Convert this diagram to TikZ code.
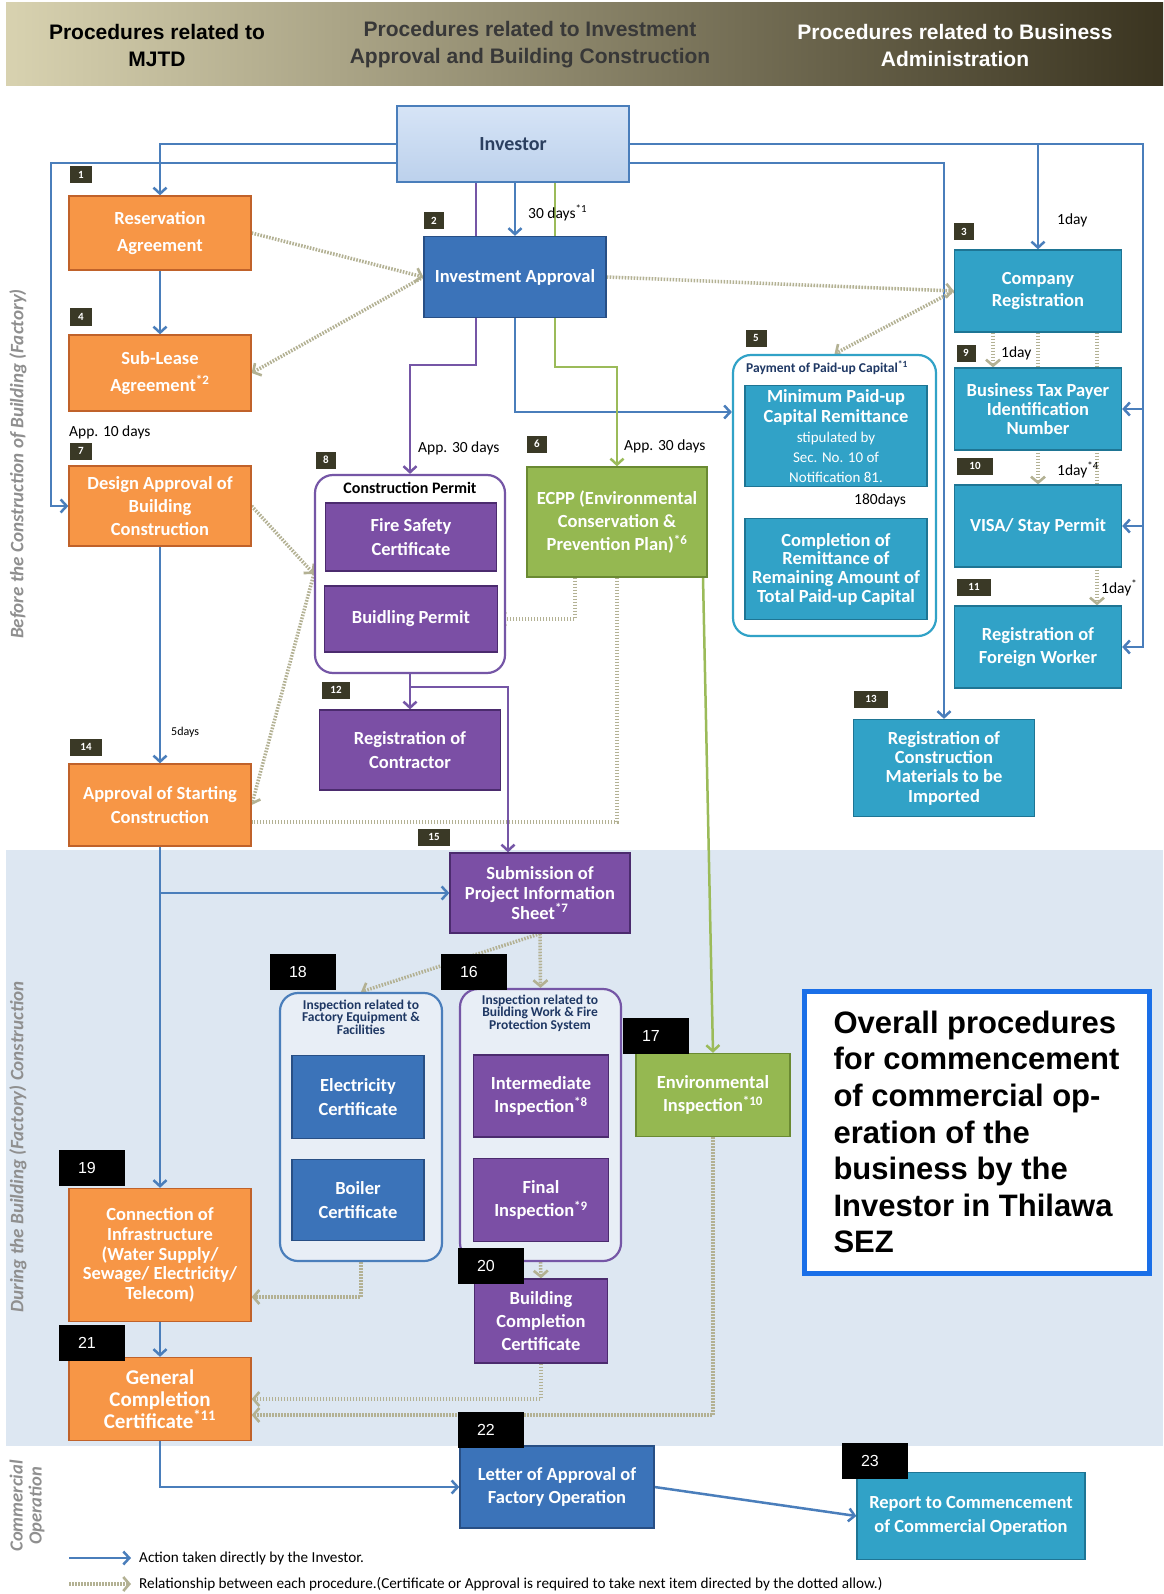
\documentclass[tikz,border=0pt]{standalone}
\usepackage{fontspec}
\setmainfont{Carlito}
\newfontfamily\hdfont{Liberation Sans}
\usetikzlibrary{arrows.meta,calc}
\definecolor{orf}{HTML}{F79646}
\definecolor{ord}{HTML}{C0622A}
\definecolor{blf}{HTML}{3B73B9}
\definecolor{bld}{HTML}{284F85}
\definecolor{tef}{HTML}{31A2C7}
\definecolor{ted}{HTML}{1E7594}
\definecolor{puf}{HTML}{7B4FA5}
\definecolor{pud}{HTML}{4B2B6E}
\definecolor{grf}{HTML}{95B851}
\definecolor{grd}{HTML}{6A8A32}
\definecolor{invt}{HTML}{D6E4F6}
\definecolor{invb}{HTML}{BCD1EC}
\definecolor{invd}{HTML}{4A7EBB}
\definecolor{invtxt}{HTML}{2B3F5F}
\definecolor{lnb}{HTML}{4A7EBB}
\definecolor{lnp}{HTML}{7556A6}
\definecolor{lng}{HTML}{9BBB59}
\definecolor{relc}{HTML}{B3B193}
\definecolor{badge}{HTML}{3A3926}
\definecolor{band}{HTML}{DDE7F2}
\definecolor{grpf}{HTML}{E8EEF6}
\definecolor{navy}{HTML}{1F3864}
\definecolor{sidegray}{HTML}{8F8F8F}
\definecolor{hdl}{HTML}{D8D2B0}
\definecolor{hdm}{HTML}{A49A6A}
\definecolor{hdr}{HTML}{3A3420}
\definecolor{bigblue}{HTML}{1A6FE8}
\pgfdeclarelayer{back}
\pgfdeclarelayer{lines}
\pgfsetlayers{back,lines,main}
\newcommand\smtxt{\mdseries\fontsize{15}{17}\selectfont}
\tikzset{
  base/.style={rectangle, line width=1.3pt, text=white, align=center, inner sep=2pt, font=\fontsize{18.5}{20}\selectfont\bfseries},
  lsp/.style={font=\fontsize{18.5}{#1}\selectfont\bfseries},
  obox/.style={base, fill=orf, draw=ord},
  bbox/.style={base, fill=blf, draw=bld},
  tbox/.style={base, fill=tef, draw=ted},
  ubox/.style={base, fill=puf, draw=pud},
  gbox/.style={base, fill=grf, draw=grd},
  grp/.style={rectangle, rounded corners=18pt, line width=2.2pt},
  sbadge/.style={fill=badge, text=white, font=\fontsize{11}{11}\selectfont\bfseries, minimum height=17pt, inner sep=0pt},
  kbadge/.style={fill=black, text=white, font=\hdfont\fontsize{16}{16}\selectfont, minimum height=36pt, text width=28pt, inner xsep=19pt, inner ysep=0pt, align=left},
  actb/.style={draw=lnb, line width=2.5pt, -{Straight Barb[length=6pt,width=13pt]}},
  actp/.style={draw=lnp, line width=2.5pt, -{Straight Barb[length=6pt,width=13pt]}},
  actg/.style={draw=lng, line width=2.5pt, -{Straight Barb[length=6pt,width=13pt]}},
  rel/.style={draw=relc, line width=3.5pt, dash pattern=on 1.6pt off 1.4pt, -{Straight Barb[length=6pt,width=14pt,line width=2.6pt]}},
  relnt/.style={draw=relc, line width=3.5pt, dash pattern=on 1.6pt off 1.4pt},
  dlbl/.style={anchor=west, font=\fontsize{15.5}{16}\selectfont, text=black, inner sep=0pt},
  hd/.style={align=center, font=\hdfont\bfseries\fontsize{21}{27}\selectfont},
  side/.style={rotate=90, text=sidegray, font=\itshape\bfseries\fontsize{19}{20}\selectfont, align=center},
  gtitle/.style={align=center, font=\fontsize{13.5}{12.5}\selectfont\bfseries, text=navy, inner sep=0pt},
  lgtxt/.style={anchor=west, font=\fontsize{15.2}{16}\selectfont, inner sep=0pt}
}
\begin{document}
\begin{tikzpicture}[x=1pt,y=-1pt]
\useasboundingbox (0,0) rectangle (1163,1594);
\begin{pgfonlayer}{back}
\fill[white] (0,0) rectangle (1163,1594);
\shade[left color=hdl, middle color=hdm, right color=hdr] (6,3) rectangle (1163,86);
\fill[band] (6,850) rectangle (1163,1446);
\end{pgfonlayer}

% header
\node[hd, text=black] (h1) at (157,45) {Procedures related to\\MJTD};
\node[hd, text=black!78] (h2) at (530,45) {Procedures related to Investment\\Approval and Building Construction};
\node[hd, text=white] (h3) at (955,45) {Procedures related to Business\\Administration};

% side labels
\node[side] (sbefore) at (18,464) {Before the Construction of Building (Factory)};
\node[side] (sduring) at (18,1147) {During the Building (Factory) Construction};
\node[side, font=\itshape\bfseries\fontsize{18.5}{19}\selectfont] (scomm) at (27,1506) {Commercial\\Operation};

% helper coordinates
\coordinate (yA) at (0,144);
\coordinate (yB) at (0,163);
\coordinate (xL) at (51,0);
\coordinate (xR) at (1143,0);
\coordinate (xP) at (476,0);
\coordinate (yP) at (0,365);
\coordinate (xG) at (555,0);
\coordinate (yG) at (0,367);
\coordinate (yIA) at (0,412);
\coordinate (yCP) at (0,687);
\coordinate (xSub) at (508,0);
\coordinate (xE1) at (575,0);
\coordinate (xE2) at (617,0);
\coordinate (yE2) at (0,822);
\coordinate (xEg) at (703,0);
\coordinate (xC1) at (993,0);
\coordinate (xC3) at (1097,0);
\coordinate (yG18) at (0,1297);
\coordinate (yEnv) at (0,1415);

% investor
\node[rectangle, top color=invt, bottom color=invb, draw=invd, line width=1.5pt, minimum width=232pt, minimum height=76pt, text=invtxt, font=\fontsize{20}{22}\selectfont\bfseries] (inv) at (513,144) {Investor};

% MJTD column
\node[obox, lsp=26.4, minimum width=182pt, minimum height=74pt] (res) at (160,233) {Reservation\\Agreement};
\node[obox, lsp=26.4, minimum width=182pt, minimum height=76pt] (sl) at (160,373) {Sub-Lease\\Agreement\textsuperscript{*2}};
\node[obox, lsp=23.4, minimum width=182pt, minimum height=80pt] (da) at (160,506) {Design Approval of\\Building\\Construction};
\node[obox, lsp=23.4, minimum width=182pt, minimum height=82pt] (as) at (160,805) {Approval of Starting\\Construction};
\node[obox, lsp=19.8, minimum width=182pt, minimum height=133pt] (ci) at (160,1255) {Connection of\\Infrastructure\\(Water Supply/\\Sewage/ Electricity/\\Telecom)};
\node[obox, font=\fontsize{21}{22}\selectfont\bfseries, minimum width=182pt, minimum height=83pt] (gcc) at (160,1399) {General\\Completion\\Certificate\textsuperscript{*11}};

% investment / construction column
\node[bbox, minimum width=182pt, minimum height=81pt] (ia) at (515,277) {Investment Approval};
\node[grp, draw=lnp, fill=white, minimum width=190pt, minimum height=198pt] (cp) at (410,574) {};
\node[font=\fontsize{16}{17}\selectfont\bfseries, text=black, inner sep=0pt] (cpt) at (410,488) {Construction Permit};
\node[ubox, lsp=23.4, minimum width=171pt, minimum height=68pt] (fs) at (411,537) {Fire Safety\\Certificate};
\node[ubox, minimum width=173pt, minimum height=66pt] (bp) at (411,619) {Buidling Permit};
\node[gbox, lsp=23.4, minimum width=180pt, minimum height=110pt] (ecpp) at (617,522) {ECPP (Environmental\\Conservation \&\\Prevention Plan)\textsuperscript{*6}};
\node[ubox, lsp=23.4, minimum width=181pt, minimum height=80pt] (rc) at (410,750) {Registration of\\Contractor};
\node[ubox, lsp=19.8, minimum width=180pt, minimum height=80pt] (sub) at (540,893) {Submission of\\Project Information\\Sheet\textsuperscript{*7}};

% payment group
\node[grp, draw=tef, fill=white, minimum width=203pt, minimum height=281pt] (pay) at (834.5,495.5) {};
\node[anchor=west, font=\fontsize{13.5}{14}\selectfont\bfseries, text=navy, inner sep=0pt] (payt) at (746,368) {Payment of Paid-up Capital\textsuperscript{*1}};
\node[tbox, minimum width=182pt, minimum height=101pt] (mp) at (836,436) {Minimum Paid-up\\Capital Remittance\\\smtxt stipulated by\\\smtxt Sec. No. 10 of\\\smtxt Notification 81.};
\node[tbox, lsp=18.7, minimum width=182pt, minimum height=101pt] (comp) at (836,569) {Completion of\\Remittance of\\Remaining Amount of\\Total Paid-up Capital};

% business administration column
\node[tbox, lsp=22.4, minimum width=167pt, minimum height=82pt] (cr) at (1038,291) {Company\\Registration};
\node[tbox, lsp=19.3, minimum width=167pt, minimum height=82pt] (btin) at (1038,409) {Business Tax Payer\\Identification\\Number};
\node[tbox, minimum width=167pt, minimum height=82pt] (visa) at (1038,526) {VISA/ Stay Permit};
\node[tbox, lsp=22.4, minimum width=167pt, minimum height=82pt] (fw) at (1038,647) {Registration of\\Foreign Worker};
\node[tbox, lsp=19.3, minimum width=181pt, minimum height=97pt] (rcm) at (944,768) {Registration of\\Construction\\Materials to be\\Imported};

% construction phase
\node[grp, draw=lnb, fill=grpf, minimum width=162pt, minimum height=268pt] (g18) at (361,1127) {};
\node[gtitle] (g18t) at (361,1017) {Inspection related to\\Factory Equipment \&\\Facilities};
\node[bbox, lsp=23.4, minimum width=132pt, minimum height=83pt] (elec) at (358,1097) {Electricity\\Certificate};
\node[bbox, lsp=23.4, minimum width=132pt, minimum height=81pt] (boil) at (358,1200) {Boiler\\Certificate};
\node[grp, draw=lnp, fill=grpf, minimum width=161pt, minimum height=272pt] (g16) at (540.5,1125) {};
\node[gtitle] (g16t) at (540,1013) {Inspection related to\\Building Work \& Fire\\Protection System};
\node[ubox, lsp=23.4, minimum width=135pt, minimum height=82pt] (inter) at (541,1096) {Intermediate\\Inspection\textsuperscript{*8}};
\node[ubox, lsp=23.4, minimum width=135pt, minimum height=83pt] (fin) at (541,1200) {Final\\Inspection\textsuperscript{*9}};
\node[gbox, lsp=23.4, minimum width=154pt, minimum height=83pt] (envi) at (713,1095) {Environmental\\Inspection\textsuperscript{*10}};
\node[ubox, lsp=23.4, minimum width=133pt, minimum height=84pt] (bcc) at (541,1321) {Building\\Completion\\Certificate};

% commercial operation
\node[bbox, lsp=23.4, minimum width=194pt, minimum height=82pt] (loa) at (557,1487) {Letter of Approval of\\Factory Operation};
\node[tbox, lsp=23.4, minimum width=228pt, minimum height=87pt] (rep) at (971,1516) {Report to Commencement\\of Commercial Operation};

% note box
\node[draw=bigblue, line width=5pt, fill=white, minimum width=345pt, minimum height=282pt, align=left, inner sep=0pt, font=\hdfont\bfseries\fontsize{31}{36.6}\selectfont] (note) at (976.5,1132) {Overall procedures\\for commencement\\of commercial op-\\eration of the\\business by the\\Investor in Thilawa\\SEZ};

% labels on connectors
\node[dlbl] (l30) at (528,213) {30 days\textsuperscript{*1}};
\node[dlbl] (l1a) at (1057,220) {1day};
\node[dlbl] (l1b) at (1001,353) {1day};
\node[dlbl] (l1c) at (1057,470) {1day\textsuperscript{*4}};
\node[dlbl] (l1d) at (1101,588) {1day\textsuperscript{*}};
\node[dlbl] (l180) at (854,500) {180days};
\node[dlbl] (l10) at (69,432) {App. 10 days};
\node[dlbl] (l30a) at (418,448) {App. 30 days};
\node[dlbl] (l30b) at (624,446) {App. 30 days};
\node[dlbl, font=\fontsize{12}{13}\selectfont] (l5) at (171,732) {5days};

% small badges
\node[sbadge, minimum width=22pt] (n1) at (81,175) {1};
\node[sbadge, minimum width=20pt] (n2) at (434,221) {2};
\node[sbadge, minimum width=20pt] (n3) at (964,232) {3};
\node[sbadge, minimum width=22pt] (n4) at (81,317) {4};
\node[sbadge, minimum width=21pt] (n5) at (756,338) {5};
\node[sbadge, minimum width=20pt] (n6) at (537,444) {6};
\node[sbadge, minimum width=22pt] (n7) at (81,451) {7};
\node[sbadge, minimum width=20pt] (n8) at (326,460) {8};
\node[sbadge, minimum width=19pt] (n9) at (966,353) {9};
\node[sbadge, minimum width=36pt] (n10) at (975,466) {10};
\node[sbadge, minimum width=34pt] (n11) at (974,587) {11};
\node[sbadge, minimum width=28pt] (n12) at (336,690) {12};
\node[sbadge, minimum width=34pt] (n13) at (871,699) {13};
\node[sbadge, minimum width=32pt] (n14) at (86,747) {14};
\node[sbadge, minimum width=32pt] (n15) at (434,837) {15};

% black badges
\node[kbadge] (b18) at (303,972) {18};
\node[kbadge] (b16) at (474,972) {16};
\node[kbadge] (b17) at (656,1036) {17};
\node[kbadge] (b19) at (92,1168) {19};
\node[kbadge] (b20) at (491,1266) {20};
\node[kbadge] (b21) at (92,1343) {21};
\node[kbadge] (b22) at (491,1430) {22};
\node[kbadge] (b23) at (875,1461) {23};

% legend
\coordinate (lga) at (69,1558);
\coordinate (lgb) at (131,1558);
\coordinate (lgc) at (69,1584);
\coordinate (lgd) at (131,1584);
\draw[actb] (lga) -- (lgb);
\draw[rel] (lgc) -- (lgd);
\node[lgtxt] (lgt1) at (139,1558) {Action taken directly by the Investor.};
\node[lgtxt] (lgt2) at (139,1584) {Relationship between each procedure.(Certificate or Approval is required to take next item directed by the dotted allow.)};

\begin{pgfonlayer}{lines}
% blue: action by investor
\draw[actb] (inv.west |- yA) -| (res.north);
\draw[actb] (inv.west |- yB) -| (xL |- da.west) -- (da.west);
\draw[actb] (inv.south -| ia.north) -- (ia.north);
\draw[actb] (inv.east |- yA) -| (cr.north);
\draw[actb] (inv.east |- yA) -| (xR |- fw.east) -- (fw.east);
\draw[actb] (xR |- btin.east) -- (btin.east);
\draw[actb] (xR |- visa.east) -- (visa.east);
\draw[actb] (inv.east |- yB) -| (rcm.north);
\draw[actb] (res.south) -- (sl.north);
\draw[actb] (da.south) -- (as.north);
\draw[actb] (as.south) -- (ci.north);
\draw[actb] (as.south |- sub.west) -- (sub.west);
\draw[actb] (ia.south) |- (pay.west |- yIA);
\draw[actb] (ci.south) -- (gcc.north);
\draw[actb] (gcc.south) |- (loa.west);
\draw[actb] (loa.east) -- (rep.west);
% purple
\draw[actp] (xP |- inv.south) |- (yP -| cp.north) -- (cp.north);
\draw[actp] (cp.south) -- (rc.north);
\draw[actp] (cp.south |- yCP) -| (xSub |- sub.north);
% green
\draw[actg] (xG |- inv.south) |- (yG -| ecpp.north) -- (ecpp.north);
\draw[actg] (xEg |- ecpp.south) -- (envi.north);
% dotted relationships
\draw[rel] (res.east) -- (ia.west);
\draw[rel] (ia.west) -- (sl.east);
\draw[rel] (ia.east) -- (cr.west);
\draw[rel] (cr.west) -- (pay.north);
\draw[rel] (da.east) -- (cp.west);
\draw[rel] (cp.west) -- (as.east);
\draw[rel] (xE1 |- ecpp.south) |- (bp.east);
\draw[relnt] (xE2 |- ecpp.south) |- (as.east |- yE2);
\draw[rel] (mp.south) -- (comp.north);
\draw[rel] (xC1 |- cr.south) -- (xC1 |- btin.north);
\draw[rel] (cr.south) -- (visa.north);
\draw[rel] (xC3 |- cr.south) -- (xC3 |- fw.north);
\draw[rel] (sub.south) -- (g16.north);
\draw[rel] (sub.south) -- (g18.north);
\draw[rel] (g16.south) -- (bcc.north);
\draw[rel] (g18.south) |- (ci.east |- yG18);
\draw[rel] (bcc.south) |- (gcc.east);
\draw[rel] (envi.south) |- (gcc.east |- yEnv);
\end{pgfonlayer}
\end{tikzpicture}
\end{document}
